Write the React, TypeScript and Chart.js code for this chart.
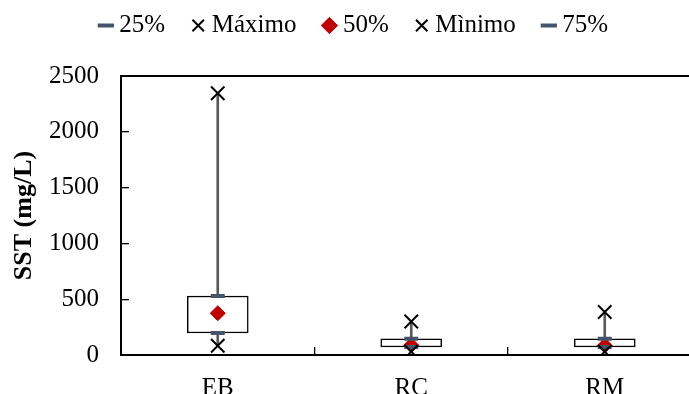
import React, { useEffect, useRef } from "react";
import { Chart, registerables } from "chart.js";

Chart.register(...registerables);

const categories = ["EB", "RC", "RM"];
const minimo = [83, 30, 30];
const q25 = [197, 72, 72];
const q50 = [374, 88, 85];
const q75 = [529, 145, 145];
const maximo = [2345, 300, 385];
const yMin = 0;
const yMax = 2500;
const yStep = 500;

const FONT = "'Liberation Serif', 'Times New Roman', serif";
const BLUE = "#44546A";
const RED = "#C00000";

const W = 713;
const H = 420;
const PAD_TOP = -19;

export default function App() {
  const ref = useRef<HTMLCanvasElement | null>(null);

  useEffect(() => {
    if (!ref.current) return;

    const frame = {
      id: "frame",
      beforeDatasetsDraw(chart: any) {
        const { ctx, chartArea } = chart;
        ctx.save();
        ctx.strokeStyle = "#000";
        ctx.lineWidth = 2;
        ctx.beginPath();
        ctx.moveTo(chartArea.left, chartArea.top);
        ctx.lineTo(chartArea.right, chartArea.top);
        ctx.lineTo(chartArea.right, chartArea.bottom);
        ctx.stroke();
        ctx.restore();
      },
    };

    const legendHeight = {
      id: "legendHeight",
      beforeInit(chart: any) {
        const orig = chart.legend.fit;
        chart.legend.fit = function () {
          orig.bind(chart.legend)();
          this.height = 76 - PAD_TOP;
        };
      },
    };

    const pts = (label: string, data: number[], style: string, radius: number, color: string, bw: number, order: number) => ({
      type: "line" as const,
      label,
      data,
      showLine: false,
      pointStyle: style,
      pointRadius: radius,
      pointHoverRadius: radius,
      borderColor: color,
      backgroundColor: color,
      borderWidth: bw,
      pointBorderWidth: bw,
      order,
    });

    const chart = new Chart(ref.current, {
      type: "bar",
      data: {
        labels: categories,
        datasets: [
          pts("25%", q25, "line", 7, BLUE, 4, 2),
          pts("Máximo", maximo, "crossRot", 9.5, "#000", 2, 1),
          pts("50%", q50, "rectRot", 7.5, RED, 1, 3),
          pts("Mìnimo", minimo, "crossRot", 9.5, "#000", 2, 1),
          pts("75%", q75, "line", 7, BLUE, 4, 2),
          {
            type: "bar",
            label: "box",
            data: categories.map((_, i) => [q25[i], q75[i]]),
            backgroundColor: "#fff",
            borderColor: "#000",
            borderWidth: 1.5,
            borderSkipped: false,
            barThickness: 61,
            grouped: false,
            order: 9,
          },
          {
            type: "bar",
            label: "wUp",
            data: categories.map((_, i) => [q75[i], maximo[i]]),
            backgroundColor: "#595959",
            borderWidth: 0,
            barThickness: 2,
            grouped: false,
            order: 10,
          },
          {
            type: "bar",
            label: "wDown",
            data: categories.map((_, i) => [minimo[i], q25[i]]),
            backgroundColor: "#595959",
            borderWidth: 0,
            barThickness: 2,
            grouped: false,
            order: 10,
          },
        ] as any,
      },
      options: {
        responsive: false,
        animation: false,
        devicePixelRatio: 1,
        layout: { padding: { top: PAD_TOP, left: 0, right: 0, bottom: 0 } },
        plugins: {
          tooltip: { enabled: false },
          legend: {
            position: "top",
            labels: {
              usePointStyle: true,
              boxWidth: 2,
              boxHeight: 11.5,
              padding: 32,
              color: "#000",
              font: { family: FONT, size: 25 },
              filter: (item: any) => item.datasetIndex < 5,
              sort: (a: any, b: any) => a.datasetIndex - b.datasetIndex,
            },
          },
        },
        scales: {
          x: {
            offset: true,
            afterFit(scale: any) {
              scale.height = H - 355;
            },
            grid: {
              offset: true,
              drawOnChartArea: false,
              drawTicks: true,
              tickLength: -8,
              color: "#000",
              lineWidth: 1.3,
            },
            border: { color: "#000", width: 2 },
            ticks: {
              color: "#000",
              padding: 26,
              font: { family: FONT, size: 25 },
            },
          },
          y: {
            min: yMin,
            max: yMax,
            afterFit(scale: any) {
              scale.width = 121;
            },
            grid: {
              drawOnChartArea: false,
              drawTicks: true,
              tickLength: -8,
              color: "#000",
              lineWidth: 1.3,
            },
            border: { color: "#000", width: 2 },
            ticks: {
              stepSize: yStep,
              color: "#000",
              padding: 30,
              font: { family: FONT, size: 25 },
              callback: (v: any) => String(v),
            },
            title: {
              display: true,
              text: "SST (mg/L)",
              color: "#000",
              padding: { top: 9, bottom: 0 },
              font: { family: FONT, size: 26, weight: "bold" },
            },
          },
        },
      },
      plugins: [frame, legendHeight],
    } as any);

    return () => chart.destroy();
  }, []);

  return (
    <div
      style={{
        position: "fixed",
        left: 0,
        top: 0,
        width: 689,
        height: 394,
        overflow: "hidden",
        background: "#fff",
      }}
    >
      <canvas ref={ref} width={W} height={H} style={{ display: "block" }} />
    </div>
  );
}
